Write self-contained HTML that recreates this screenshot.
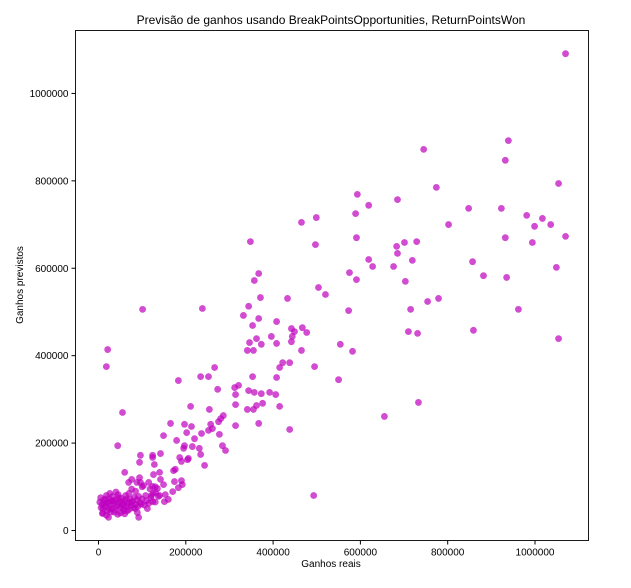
<!DOCTYPE html>
<html><head><meta charset="utf-8"><style>
body{margin:0;background:#fff}
svg{display:block;font-family:"Liberation Sans","DejaVu Sans",sans-serif}
</style></head><body>
<svg id="chart" width="631" height="588" viewBox="0 0 631 588">
<rect width="631" height="588" fill="#fff"/>
<text x="331" y="24" font-size="12" text-anchor="middle">Previsão de ganhos usando BreakPointsOpportunities, ReturnPointsWon</text>
<text x="331" y="567" font-size="10" text-anchor="middle">Ganhos reais</text>
<text x="23" y="285" font-size="10" text-anchor="middle" transform="rotate(-90 23 285)">Ganhos previstos</text>
<g id="points"></g>
<g id="axes"></g>
</svg>
<script>
// values in thousands
const actualK = [1070,939,745,932,1054,774,685,848,923,981,1017,1036,999,802,1070,932,994,683,701,729,685,719,676,857,882,935,1049,703,779,754,715,962,710,731,859,1054,733,655,493,
499,465,593,589,619,591,497,348,619,628,575,591,367,357,504,520,371,433,238,344,573,332,367,408,353,442,449,467,477,362,396,444,346,373,408,442,341,355,554,465,582,422,415,438,495,266,234,252,353,408,550,415,438,
183,273,312,321,344,357,373,392,406,314,314,211,254,341,355,362,376,55,286,280,275,165,197,213,257,261,252,314,367,202,236,277,149,220,179,44,197,215,231,284,291,195,96,142,124,124,186,190,204,206,234,94,128,243,172,176,60,140,126,94,76,69,96,103,115,124,142,149,174,190,192,183,135,131,170,153,151,137,160,121,124,89,92,9,23,44,21,18,101,
5,8,10,12,15,18,20,22,25,28,30,32,35,38,40,42,45,48,50,52,55,58,60,62,65,68,70,72,75,78,80,82,85,88,90,95,100,105,110,115,120,3,6,14,16,24,26,34,36,44,46,54,56,64,66,74,84,92,98,108,10,18,28,50,60,40,70,85,112,125,130,118,100,88,76,130,140,20,30,58];
const predictedK = [1091,892,872,847,794,785,757,737,737,721,714,700,696,700,673,670,659,650,659,661,634,618,604,615,583,579,602,570,531,524,506,506,455,451,458,439,293,261,80,
716,705,769,725,744,670,654,661,620,604,590,574,588,572,556,540,533,531,508,513,503,492,485,478,469,462,455,464,453,439,444,444,430,426,428,432,412,412,426,412,410,384,373,384,375,373,352,352,352,350,345,284,231,
343,323,327,332,320,316,313,316,311,311,288,284,277,277,277,286,291,270,263,256,249,245,243,238,243,233,229,240,245,224,222,220,217,210,206,194,194,192,188,194,183,188,172,176,172,167,167,158,162,165,174,156,151,149,137,140,133,133,128,121,117,110,110,103,110,101,117,105,112,114,105,98,96,87,89,82,66,78,71,80,66,41,30,39,30,37,414,375,506,
75,60,50,70,55,80,45,65,72,58,50,78,62,48,70,55,82,65,52,74,60,45,68,80,55,62,48,72,58,66,52,76,60,70,55,64,72,58,68,62,75,65,52,62,72,50,85,68,42,60,75,66,50,72,45,64,50,78,60,80,40,35,42,40,38,88,85,90,50,85,65,95,100,110,95,100,80,62,68,58];
const xTicks = [0,200000,400000,600000,800000,1000000];
const yTicks = [0,200000,400000,600000,800000,1000000];
const xTickLabels = ["0","200000","400000","600000","800000","1000000"];
const yTickLabels = ["0","200000","400000","600000","800000","1000000"];

const L=75.5,R=588.5,T=30.5,B=540.5;
const xMin=-52700,xMax=1122600,yMin=-22900,yMax=1144000;
const xs=v=>L+(v-xMin)/(xMax-xMin)*(R-L);
const ys=v=>B-(v-yMin)/(yMax-yMin)*(B-T);
const NS="http://www.w3.org/2000/svg";
const pg=document.getElementById('points');
for(let i=0;i<actualK.length;i++){
  const c=document.createElementNS(NS,'circle');
  c.setAttribute('cx',xs(actualK[i]*1000));
  c.setAttribute('cy',ys(predictedK[i]*1000));
  c.setAttribute('r',3.4);
  c.setAttribute('fill','#bf00bf');
  c.setAttribute('fill-opacity','0.7');
  
  
  pg.appendChild(c);
}
const ax=document.getElementById('axes');
const fr=document.createElementNS(NS,'rect');
fr.setAttribute('x',L);fr.setAttribute('y',T);fr.setAttribute('width',R-L);fr.setAttribute('height',B-T);
fr.setAttribute('fill','none');fr.setAttribute('stroke','#000');fr.setAttribute('stroke-width','0.9');


ax.appendChild(fr);
xTicks.forEach((v,i)=>{
  const x=xs(v);
  const l=document.createElementNS(NS,'line');
  l.setAttribute('x1',x);l.setAttribute('x2',x);l.setAttribute('y1',B);l.setAttribute('y2',B+4);l.setAttribute('stroke','#000');
  
  
  ax.appendChild(l);
  const t=document.createElementNS(NS,'text');
  t.setAttribute('x',x);t.setAttribute('y',B+15);t.setAttribute('font-size','10');t.setAttribute('text-anchor','middle');
  t.textContent=xTickLabels[i];
  
  
  ax.appendChild(t);
});
yTicks.forEach((v,i)=>{
  const y=ys(v);
  const l=document.createElementNS(NS,'line');
  l.setAttribute('x1',L-4);l.setAttribute('x2',L);l.setAttribute('y1',y);l.setAttribute('y2',y);l.setAttribute('stroke','#000');
  
  
  ax.appendChild(l);
  const t=document.createElementNS(NS,'text');
  t.setAttribute('x',L-7);t.setAttribute('y',y+3.5);t.setAttribute('font-size','10');t.setAttribute('text-anchor','end');
  t.textContent=yTickLabels[i];
  
  
  ax.appendChild(t);
});
</script>
</body></html>
